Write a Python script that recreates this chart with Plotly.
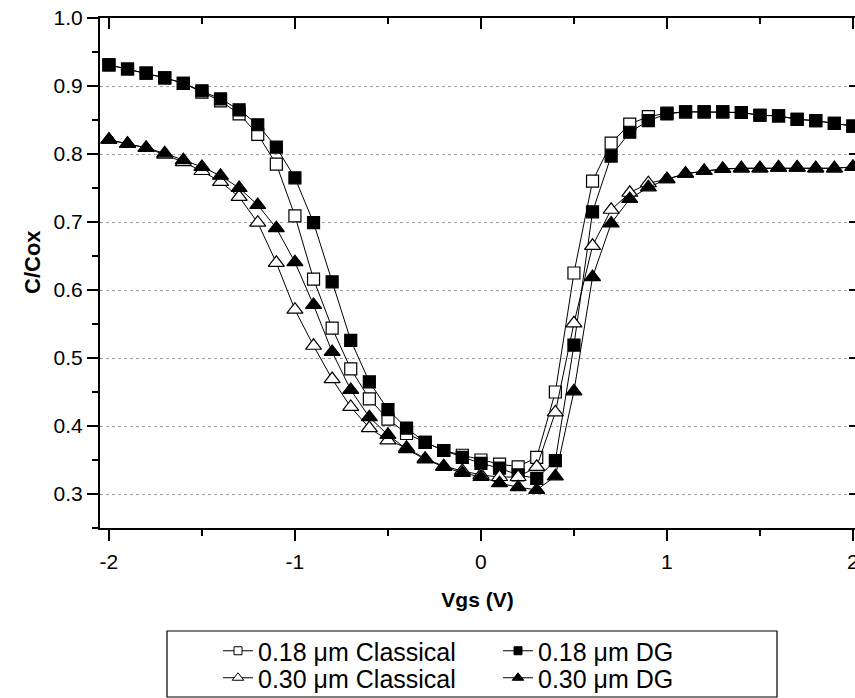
import plotly.graph_objects as go

vgs = [round(-2.0 + 0.1 * i, 1) for i in range(41)]

c018_classical = [0.931, 0.925, 0.919, 0.912, 0.904, 0.891, 0.878, 0.859, 0.829, 0.785,
                  0.709, 0.616, 0.544, 0.484, 0.440, 0.410, 0.389, 0.376, 0.364, 0.357,
                  0.350, 0.344, 0.340, 0.354, 0.450, 0.625, 0.760, 0.816, 0.844, 0.855,
                  0.860, 0.862, 0.862, 0.862, 0.861, 0.857, 0.856, 0.851, 0.849, 0.845, 0.841]
c018_dg = [0.931, 0.925, 0.919, 0.912, 0.904, 0.893, 0.881, 0.865, 0.843, 0.810,
           0.765, 0.699, 0.612, 0.526, 0.465, 0.424, 0.397, 0.376, 0.364, 0.354,
           0.345, 0.338, 0.328, 0.323, 0.349, 0.519, 0.715, 0.797, 0.832, 0.849,
           0.859, 0.862, 0.862, 0.862, 0.861, 0.857, 0.856, 0.851, 0.849, 0.845, 0.841]
c030_classical = [0.821, 0.815, 0.809, 0.799, 0.788, 0.775, 0.759, 0.737, 0.699, 0.640,
                  0.571, 0.518, 0.469, 0.428, 0.397, 0.379, 0.368, 0.352, 0.341, 0.334,
                  0.328, 0.325, 0.325, 0.340, 0.420, 0.551, 0.665, 0.718, 0.743, 0.757,
                  0.763, 0.771, 0.775, 0.778, 0.779, 0.779, 0.780, 0.780, 0.779, 0.779, 0.781]
c030_dg = [0.821, 0.815, 0.809, 0.801, 0.791, 0.781, 0.768, 0.750, 0.725, 0.691,
           0.641, 0.578, 0.509, 0.453, 0.413, 0.387, 0.366, 0.351, 0.340, 0.331,
           0.325, 0.316, 0.310, 0.306, 0.326, 0.451, 0.619, 0.698, 0.734, 0.751,
           0.763, 0.771, 0.775, 0.778, 0.779, 0.779, 0.780, 0.780, 0.779, 0.779, 0.781]

x_ticks = [-2, -1, 0, 1, 2]
x_minor = [-1.5, -0.5, 0.5, 1.5]
y_ticks = [0.3, 0.4, 0.5, 0.6, 0.7, 0.8, 0.9, 1.0]
y_ticklabels = ["0.3", "0.4", "0.5", "0.6", "0.7", "0.8", "0.9", "1.0"]
y_minor = [0.25, 0.35, 0.45, 0.55, 0.65, 0.75, 0.85, 0.95]

names = ["0.18 \u03bcm Classical", "0.18 \u03bcm DG", "0.30 \u03bcm Classical", "0.30 \u03bcm DG"]
series = [c018_classical, c018_dg, c030_classical, c030_dg]
symbols = ["square", "square", "triangle-up", "triangle-up"]
fills = ["white", "black", "white", "black"]
sizes = [12, 12, 14, 14]
legend_sizes = [8, 8, 10, 10]
legend_ids = ["legend", "legend2", "legend3", "legend4"]
# legend anchor positions in pixels (left x, row centre y)
legend_px = [(218, 651), (498, 651), (218, 678), (498, 678)]

FONT = "Liberation Sans, Arial, sans-serif"

fig = go.Figure()
for name, ys, sym, fc, sz in zip(names, series, symbols, fills, sizes):
    fig.add_trace(go.Scatter(
        x=vgs, y=ys, name=name, mode="lines+markers", showlegend=False,
        line=dict(color="black", width=1),
        marker=dict(symbol=sym, size=sz, color=fc, line=dict(color="black", width=1.2)),
    ))

# legend entries with small symbols
for name, sym, fc, lsz, lid in zip(names, symbols, fills, legend_sizes, legend_ids):
    fig.add_trace(go.Scatter(
        x=[None], y=[None], name=name, mode="lines+markers", legend=lid,
        line=dict(color="black", width=1),
        marker=dict(symbol=sym, size=lsz, color=fc, line=dict(color="black", width=1)),
    ))

# invisible trace for mirrored top/right axes
fig.add_trace(go.Scatter(x=[None], y=[None], xaxis="x2", yaxis="y2",
                         showlegend=False, hoverinfo="skip"))

xr = [-2.048, 2.011]
yr = [0.25, 1.0]

W, H = 855, 698
L, R, T, B = 100, 0, 18, 170
pw, ph = W - L - R, H - T - B


def px_x(p):
    return (p - L) / pw


def px_y(p):
    return (H - B - p) / ph


legend_common = dict(
    orientation="h", xanchor="left", yanchor="middle",
    borderwidth=0, bgcolor="rgba(0,0,0,0)",
    font=dict(size=25, family=FONT), tracegroupgap=0,
)
legend_layouts = {
    lid: dict(x=px_x(lx), y=px_y(ly), **legend_common)
    for lid, (lx, ly) in zip(legend_ids, legend_px)
}

fig.update_layout(
    width=W, height=H,
    margin=dict(l=L, r=R, t=T, b=B, autoexpand=False),
    paper_bgcolor="white", plot_bgcolor="white",
    font=dict(family=FONT, color="black", size=21),
    showlegend=True,
    xaxis=dict(
        range=xr, tickvals=x_ticks, ticktext=[str(v) for v in x_ticks],
        ticks="outside", ticklen=11, tickwidth=2, tickcolor="black",
        minor=dict(tickvals=x_minor, ticks="outside", ticklen=6,
                   tickwidth=2, tickcolor="black", showgrid=False),
        showline=True, linewidth=2, linecolor="black",
        showgrid=False, zeroline=False, ticklabeloverflow="allow",
        ticklabelstandoff=3, automargin=False,
        tickfont=dict(size=21),
        title=dict(text="<b>Vgs (V)</b>", font=dict(size=21), standoff=20),
    ),
    yaxis=dict(
        range=yr, tickvals=y_ticks, ticktext=y_ticklabels,
        ticks="outside", ticklen=11, tickwidth=2, tickcolor="black",
        minor=dict(tickvals=y_minor, ticks="outside", ticklen=6,
                   tickwidth=2, tickcolor="black", showgrid=False),
        showline=True, linewidth=2, linecolor="black",
        showgrid=True, gridcolor="#a0a0a0", gridwidth=1, griddash="dot",
        zeroline=False, automargin=False,
        tickfont=dict(size=21),
    ),
    xaxis2=dict(
        overlaying="x", side="top", range=xr, tickvals=x_ticks,
        ticks="inside", ticklen=11, tickwidth=2, tickcolor="black",
        minor=dict(tickvals=x_minor, ticks="inside", ticklen=6,
                   tickwidth=2, tickcolor="black"),
        showticklabels=False, showline=True, linewidth=2, linecolor="black",
        showgrid=False, zeroline=False, automargin=False,
    ),
    yaxis2=dict(
        overlaying="y", side="right", range=yr, tickvals=y_ticks,
        ticks="inside", ticklen=6, tickwidth=2, tickcolor="black",
        showticklabels=False, showline=False, showgrid=False, zeroline=False,
        automargin=False,
    ),
    annotations=[dict(
        text="<b>C/Cox</b>", textangle=-90, xref="paper", yref="paper",
        x=px_x(32), y=px_y(262), xanchor="center", yanchor="middle",
        showarrow=False, font=dict(size=22, family=FONT, color="black"),
    )],
    shapes=[dict(
        type="rect", xref="paper", yref="paper",
        x0=px_x(167), x1=px_x(777), y0=px_y(631), y1=px_y(697),
        line=dict(color="black", width=1.2), fillcolor="rgba(0,0,0,0)",
    )],
    **legend_layouts,
)

fig.write_html("out.html")
